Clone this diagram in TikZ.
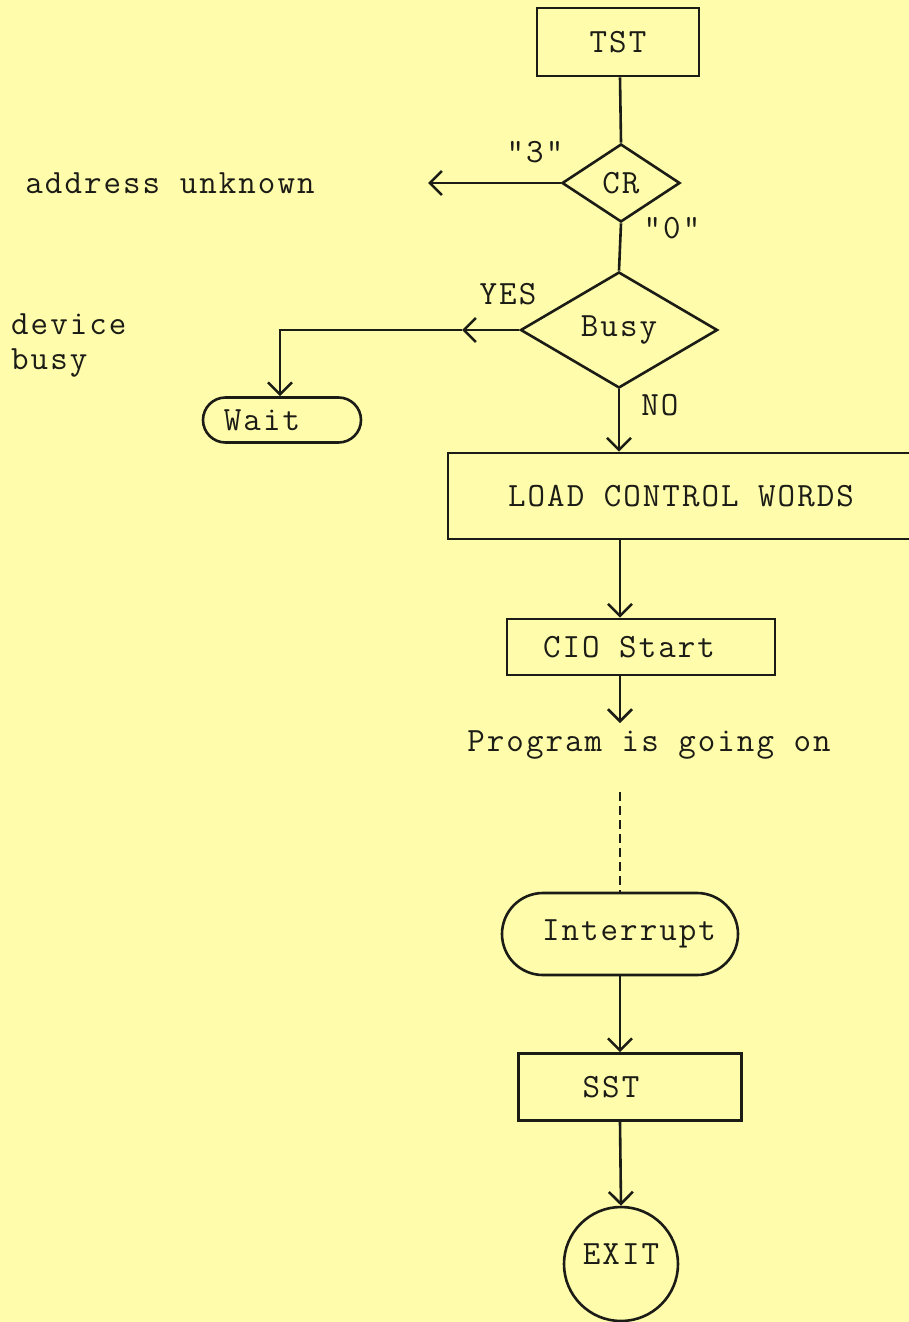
\documentclass[tikz,border=0pt]{standalone}
\usepackage{fontspec}
\newfontfamily\tw[LetterSpace=6]{Latin Modern Mono}
\usetikzlibrary{shapes.geometric,shapes.misc,arrows.meta}
\definecolor{paper}{RGB}{255,252,172}
\definecolor{ink}{RGB}{28,28,22}
\begin{document}
\begin{tikzpicture}[x=1pt,y=-1pt,
  every node/.style={font=\tw\fontsize{34}{35}\selectfont, text=ink, inner sep=0pt},
  box/.style={draw=ink, line width=2.6pt, rectangle},
  dec/.style={draw=ink, line width=2.6pt, diamond},
  term/.style={draw=ink, line width=2.6pt, rounded rectangle},
  endc/.style={draw=ink, line width=2.6pt, circle},
  link/.style={draw=ink, line width=2.6pt},
  arr/.style={draw=ink, line width=2.6pt, -{Straight Barb[length=12pt,width=24pt]}}
]
\useasboundingbox (0,0) rectangle (909,1322);
\fill[paper] (0,0) rectangle (909,1322);
\coordinate (col) at (620,0);

\node[box, minimum width=162, minimum height=68] (tst) at (618,42) {TST};
\node[dec, minimum width=118, minimum height=78] (cr) at (621,183) {CR};
\node[dec, minimum width=197, minimum height=116] (busy) at (619,330) {Busy};
\node[term, minimum width=158, minimum height=45] (wait) at (282,420) {Wait\hspace*{40pt}};
\node[box, minimum width=466, minimum height=86] (load) at (681,496) {LOAD CONTROL WORDS};
\node[box, minimum width=268, minimum height=56] (cio) at (641,647) {CIO Start\hspace*{24pt}};
\node (prog) at (649,745) {Program is going on};
\node[term, minimum width=236, minimum height=82] (intr) at (620,934) {\hspace*{18pt}Interrupt};
\node[box, minimum width=223, minimum height=67] (sst) at (630,1087) {SST\hspace*{38pt}};
\node[endc, minimum size=114] (exit) at (621,1264) {\raisebox{19pt}{EXIT}};

\node (addr) at (170,183) {address unknown};
\node[align=left, anchor=west] (dev) at (11,345) {device\\busy};
\node (q3) at (535,152) {"3"};
\node (q0) at (672,228) {"0"};
\node (yes) at (508,294) {YES};
\node (no) at (660,405) {NO};

\coordinate (addrend) at (428,183);
\coordinate (yesarr) at (462,330);
\coordinate (bend) at (280,330);
\coordinate (progtop) at (620,723);
\coordinate (dashtop) at (620,792);

\draw[link] (col |- tst.south) -- (cr.north);
\draw[arr] (cr.west) -- (addrend);
\draw[link] (cr.south) -- (busy.north);
\draw[arr] (busy.west) -- (yesarr);
\draw[arr] (yesarr) -- (bend) -- (bend |- wait.north);
\draw[arr] (busy.south) -- (busy.south |- load.north);
\draw[arr] (col |- load.south) -- (col |- cio.north);
\draw[arr] (col |- cio.south) -- (progtop);
\draw[link, dash pattern=on 9pt off 5pt] (dashtop) -- (intr.north);
\draw[arr] (intr.south) -- (col |- sst.north);
\draw[arr] (col |- sst.south) -- (exit.north);
\end{tikzpicture}
\end{document}
